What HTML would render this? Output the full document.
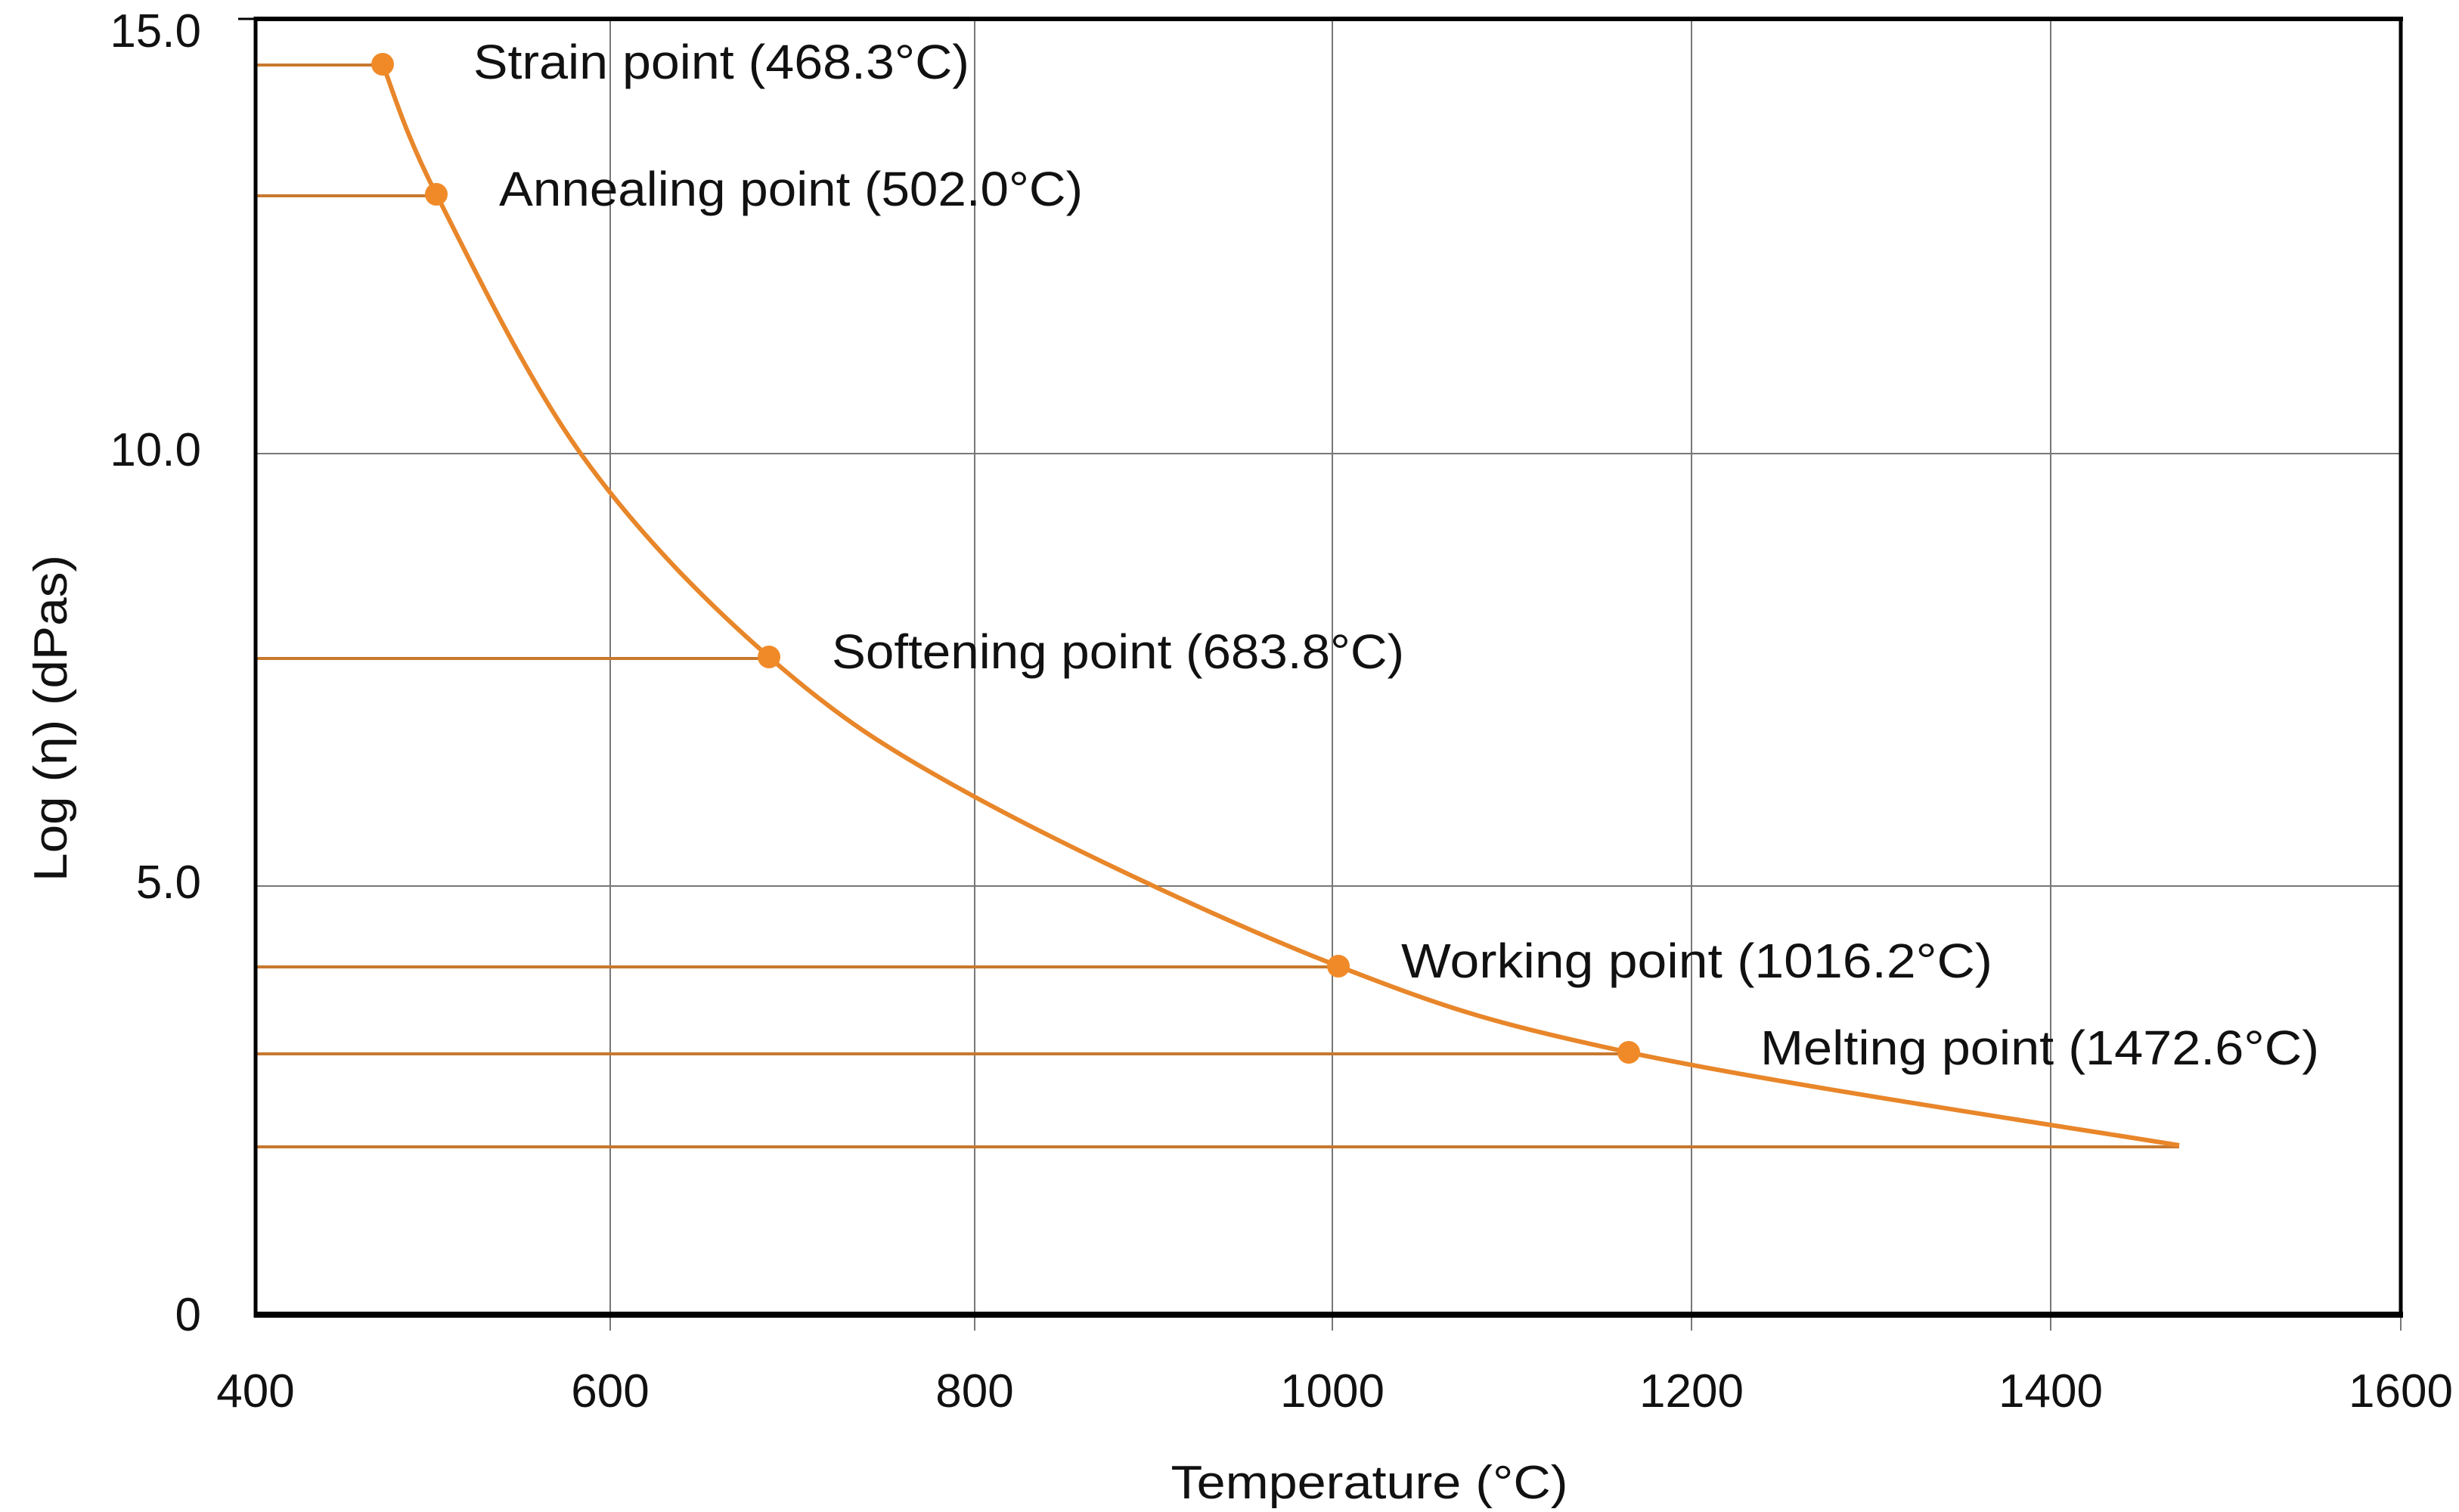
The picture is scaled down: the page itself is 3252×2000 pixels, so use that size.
<!DOCTYPE html>
<html><head><meta charset="utf-8"><style>
html,body{margin:0;padding:0;background:#fff;}
svg{display:block;}
text{font-family:"Liberation Sans",sans-serif;fill:#111;}
</style></head><body>
<svg width="3252" height="2000" viewBox="0 0 3252 2000" xmlns="http://www.w3.org/2000/svg">
<rect width="3252" height="2000" fill="#fff"/>
<g stroke="#777" stroke-width="2">
<line x1="807" y1="25" x2="807" y2="1760"/>
<line x1="1289" y1="25" x2="1289" y2="1760"/>
<line x1="1762" y1="25" x2="1762" y2="1760"/>
<line x1="2237" y1="25" x2="2237" y2="1760"/>
<line x1="2712" y1="25" x2="2712" y2="1760"/>
<line x1="3175" y1="1739" x2="3175" y2="1760"/>
<line x1="338" y1="600" x2="3175" y2="600"/>
<line x1="338" y1="1172" x2="3175" y2="1172"/>
</g>
<g stroke="#C8782E" stroke-width="4">
<line x1="340" y1="86" x2="506" y2="86"/>
<line x1="340" y1="259" x2="577" y2="259"/>
<line x1="340" y1="871" x2="1017" y2="871"/>
<line x1="340" y1="1279" x2="1771" y2="1279"/>
<line x1="340" y1="1394" x2="2153" y2="1394"/>
<line x1="340" y1="1517" x2="2882" y2="1517"/>
</g>
<path d="M506,85 C518,114 533,171 577,257 C621,343 695,498 768,600 C841,702 930,793 1017,869 C1104,945 1164,986 1289,1054 C1414,1122 1626,1222 1770,1278 C1914,1334 1969,1352 2154,1392 C2339,1432 2761,1495 2882,1515" fill="none" stroke="#E8862A" stroke-width="6"/>
<g fill="#F08A28">
<circle cx="506" cy="85" r="15"/>
<circle cx="577" cy="257" r="15"/>
<circle cx="1017" cy="869" r="15"/>
<circle cx="1770" cy="1278" r="15"/>
<circle cx="2154" cy="1392" r="15"/>
</g>
<g fill="none" stroke="#000">
<line x1="336" y1="25" x2="3178" y2="25" stroke-width="6"/>
<line x1="338" y1="22" x2="338" y2="1743" stroke-width="5"/>
<line x1="3175" y1="22" x2="3175" y2="1743" stroke-width="5"/>
<line x1="336" y1="1739" x2="3178" y2="1739" stroke-width="8"/>
<line x1="315" y1="25" x2="338" y2="25" stroke-width="3"/>
</g>
<g font-size="64">
<text x="626" y="104" textLength="656" lengthAdjust="spacingAndGlyphs">Strain point (468.3°C)</text>
<text x="660" y="272" textLength="772" lengthAdjust="spacingAndGlyphs">Annealing point (502.0°C)</text>
<text x="1100" y="884" textLength="757" lengthAdjust="spacingAndGlyphs">Softening point (683.8°C)</text>
<text x="1853" y="1293" textLength="782" lengthAdjust="spacingAndGlyphs">Working point (1016.2°C)</text>
<text x="2328" y="1408" textLength="739" lengthAdjust="spacingAndGlyphs">Melting point (1472.6°C)</text>
</g>
<g font-size="62" text-anchor="end">
<text x="266" y="62">15.0</text>
<text x="266" y="616">10.0</text>
<text x="266" y="1188">5.0</text>
<text x="266" y="1760">0</text>
</g>
<g font-size="62" text-anchor="middle">
<text x="338" y="1861">400</text>
<text x="807" y="1861">600</text>
<text x="1289" y="1861">800</text>
<text x="1762" y="1861">1000</text>
<text x="2237" y="1861">1200</text>
<text x="2712" y="1861">1400</text>
<text x="3175" y="1861">1600</text>
<text x="1811" y="1982" textLength="525" lengthAdjust="spacingAndGlyphs">Temperature (°C)</text>
<text transform="translate(88,950) rotate(-90)" textLength="432" lengthAdjust="spacingAndGlyphs">Log (η) (dPas)</text>
</g>
</svg>
</body></html>
